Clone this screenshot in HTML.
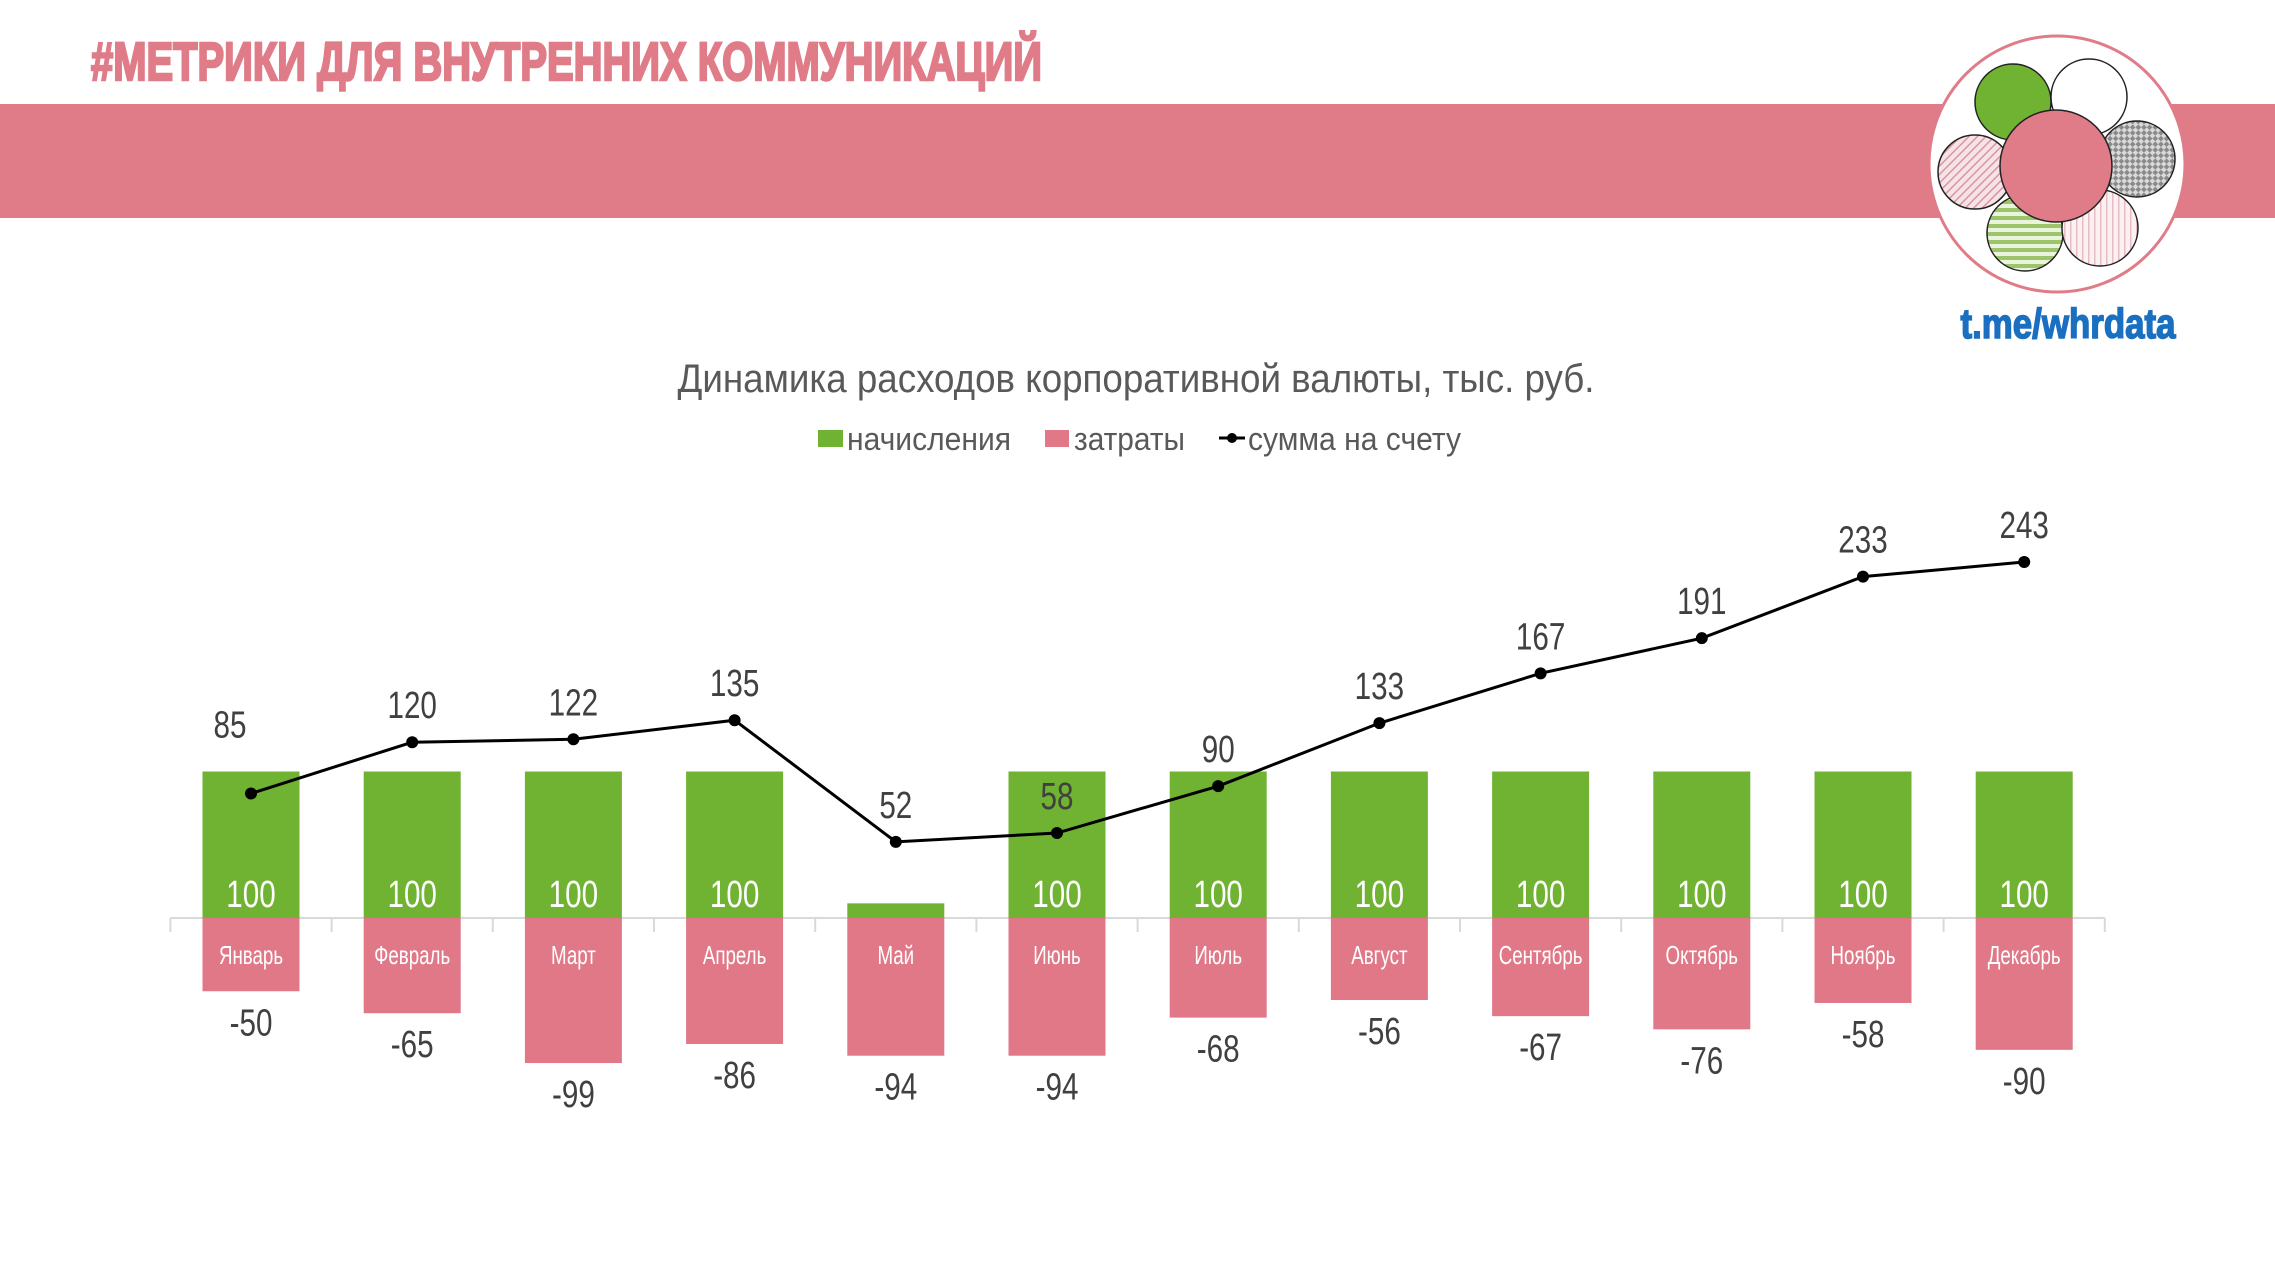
<!DOCTYPE html>
<html><head><meta charset="utf-8"><style>
html,body{margin:0;padding:0;background:#fff;}
svg{display:block;font-family:"Liberation Sans Narrow","Liberation Sans","DejaVu Sans Condensed",sans-serif;}
</style></head><body>
<svg id="chart" width="2275" height="1280" viewBox="0 0 2275 1280" xmlns="http://www.w3.org/2000/svg">
<defs>
<pattern id="pDiag" width="6" height="6" patternUnits="userSpaceOnUse" patternTransform="rotate(45)"><rect width="6" height="6" fill="#f6e3e7"/><rect width="1.5" height="6" fill="#d896a2"/></pattern>
<pattern id="pCheck" width="8" height="8" patternUnits="userSpaceOnUse" patternTransform="rotate(45)"><rect width="8" height="8" fill="#d9d9d9"/><rect width="4" height="4" fill="#8a8a8a"/><rect x="4" y="4" width="4" height="4" fill="#8a8a8a"/></pattern>
<pattern id="pHor" width="8" height="8" patternUnits="userSpaceOnUse"><rect width="8" height="8" fill="#eaf3dc"/><rect width="8" height="4" fill="#9cc46a"/></pattern>
<pattern id="pVert" width="6" height="6" patternUnits="userSpaceOnUse"><rect width="6" height="6" fill="#fbf0f2"/><rect width="1.5" height="6" fill="#e8bcc4"/></pattern>
</defs>
<rect x="0" y="104" width="2275" height="114" fill="#e07b88"/>
<text x="91" y="80" font-size="54" font-weight="bold" fill="#e07b88" stroke="#e07b88" stroke-width="2.5" textLength="951" lengthAdjust="spacingAndGlyphs">#МЕТРИКИ ДЛЯ ВНУТРЕННИХ КОММУНИКАЦИЙ</text>
<g>
<circle cx="2057" cy="164" r="128" fill="#fff" stroke="#e07b88" stroke-width="3"/>
<circle cx="2013" cy="102" r="38" fill="#70b232" stroke="#222" stroke-width="1.5"/>
<circle cx="2089" cy="97" r="38" fill="#fff" stroke="#222" stroke-width="1.5"/>
<circle cx="2137" cy="159" r="38" fill="url(#pCheck)" stroke="#222" stroke-width="1.5"/>
<circle cx="1975" cy="172" r="37" fill="url(#pDiag)" stroke="#222" stroke-width="1.5"/>
<circle cx="2025" cy="233" r="38" fill="url(#pHor)" stroke="#222" stroke-width="1.5"/>
<circle cx="2100" cy="228" r="38" fill="url(#pVert)" stroke="#222" stroke-width="1.5"/>
<circle cx="2056" cy="166" r="56" fill="#e07b88" stroke="#222" stroke-width="1.5"/>
</g>
<text x="2068" y="338" font-size="42" font-weight="bold" fill="#1a6fc0" stroke="#1a6fc0" stroke-width="1.5" text-anchor="middle" textLength="215" lengthAdjust="spacingAndGlyphs">t.me/whrdata</text>
<text x="1136" y="392" font-size="40" fill="#595959" text-anchor="middle" textLength="917" lengthAdjust="spacingAndGlyphs">Динамика расходов корпоративной валюты, тыс. руб.</text>
<g>
<g><rect x="818" y="430" width="25" height="17" fill="#70b232"/><text x="847" y="450" font-size="32" fill="#595959" textLength="164" lengthAdjust="spacingAndGlyphs">начисления</text></g>
<g><rect x="1045" y="430" width="24" height="17" fill="#e07888"/><text x="1074" y="450" font-size="32" fill="#595959" textLength="111" lengthAdjust="spacingAndGlyphs">затраты</text></g>
<g><line x1="1219" y1="438" x2="1245" y2="438" stroke="#000" stroke-width="3"/><circle cx="1232" cy="438" r="5" fill="#000"/><text x="1248" y="450" font-size="32" fill="#595959" textLength="213" lengthAdjust="spacingAndGlyphs">сумма на счету</text></g>
</g>
<g id="plot"></g>
</svg>
<script>
const months = ["Январь","Февраль","Март","Апрель","Май","Июнь","Июль","Август","Сентябрь","Октябрь","Ноябрь","Декабрь"];
const accruals = [100,100,100,100,10,100,100,100,100,100,100,100];
const costs = [-50,-65,-99,-86,-94,-94,-68,-56,-67,-76,-58,-90];
const balance = [85,120,122,135,52,58,90,133,167,191,233,243];

const NS = "http://www.w3.org/2000/svg";
const plot = document.getElementById("plot");
const x0 = 251, step = 161.2, bw = 97, y0 = 918, k = 1.465;
function xs(i){ return x0 + i*step; }
function ys(v){ return y0 - v*k; }
function mk(tag, attrs, parent){ const e = document.createElementNS(NS, tag); for (const a in attrs) e.setAttribute(a, attrs[a]); (parent||plot).appendChild(e); return e; }
function txt(x, y, s, size, fill, sx){ const t = mk("text", {x:0, y:0, "font-size":size, fill:fill, "text-anchor":"middle", transform:"translate("+x+","+y+") scale("+(sx||0.78)+",1)"}); t.textContent = s; return t; }

const axis = mk("line", {x1: xs(0)-step/2, x2: xs(11)+step/2, y1: y0, y2: y0, stroke:"#d9d9d9", "stroke-width":2});


for (let i=0;i<=12;i++){
  const tk = mk("line", {x1: xs(i)-step/2, x2: xs(i)-step/2, y1: y0, y2: y0+14, stroke:"#d9d9d9", "stroke-width":2});
  
  
}
months.forEach((m,i)=>{
  const g1 = mk("rect", {x: xs(i)-bw/2, y: ys(accruals[i]), width: bw, height: y0-ys(accruals[i]), fill:"#70b232"});
  
  
  const r1 = mk("rect", {x: xs(i)-bw/2, y: y0, width: bw, height: ys(costs[i])-y0, fill:"#e07888"});
  
  
  if (accruals[i] >= 30) {
    const la = txt(xs(i), 907, String(accruals[i]), 38, "#fff");
    
    
  }
  const lm = txt(xs(i), 964, m, 26, "#fff", 0.72);
  
  
  const lc = txt(xs(i), ys(costs[i])+44, String(costs[i]), 38, "#404040");
  
  
});
const pts = balance.map((v,i)=> xs(i)+","+ys(v)).join(" ");
const line = mk("polyline", {points: pts, fill:"none", stroke:"#000", "stroke-width":3});


balance.forEach((v,i)=>{
  const c = mk("circle", {cx: xs(i), cy: ys(v), r: 6, fill:"#000"});
  
  
  const t = txt(xs(i) - (i===0?21:0), ys(v)-(i===0?56:24), String(v), 38, "#404040");
  
  
});
</script>
</body></html>
